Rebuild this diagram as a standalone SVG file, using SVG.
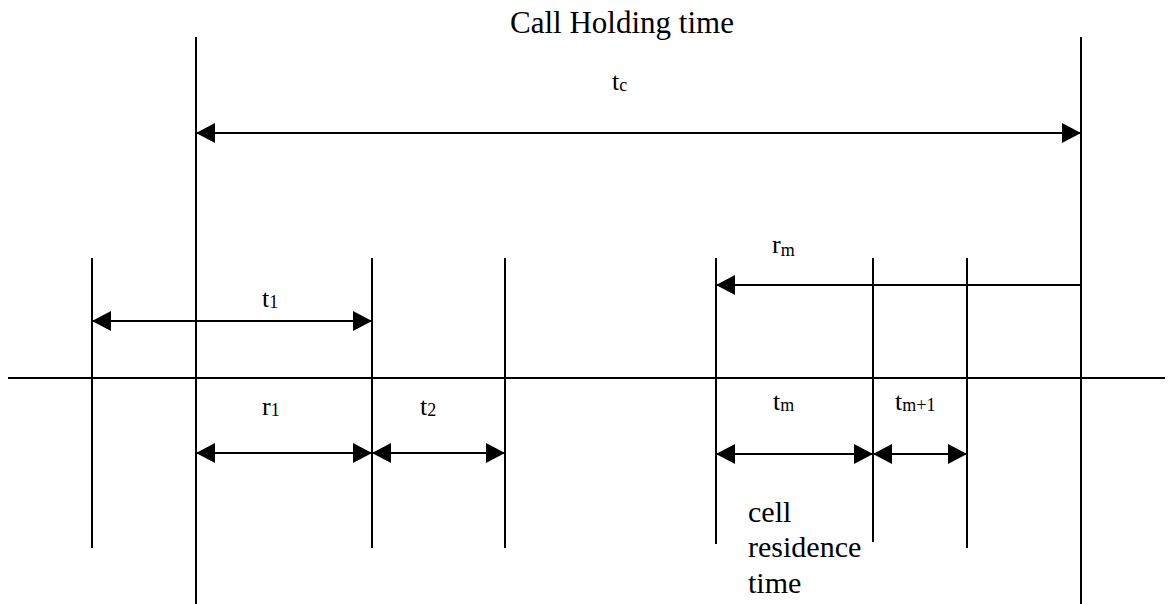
<svg xmlns="http://www.w3.org/2000/svg" width="1172" height="604" viewBox="0 0 1172 604">
  <style>
    .ln { stroke: #000; stroke-width: 2; fill: none; }
    .arr { stroke: #000; stroke-width: 2; fill: none; marker-start: url(#ah); marker-end: url(#ah); }
    .arr1 { stroke: #000; stroke-width: 2; fill: none; marker-end: url(#ah); }
    .lbl { font-family: "Liberation Serif", "Times New Roman", serif; font-size: 26px; fill: #000; }
    .sub { font-size: 18px; }
    .title { font-family: "Liberation Serif", "Times New Roman", serif; font-size: 31px; fill: #000; }
    .txt { font-family: "Liberation Serif", "Times New Roman", serif; font-size: 30px; fill: #000; }
  </style>
  <defs>
    <marker id="ah" viewBox="0 0 19 20" refX="19" refY="10" markerWidth="19" markerHeight="20" markerUnits="userSpaceOnUse" orient="auto-start-reverse">
      <path d="M0,0 L19,10 L0,20 z" fill="#000"/>
    </marker>
  </defs>
  <rect width="1172" height="604" fill="#fff"/>

  <g id="axis">
    <line class="ln" x1="8" y1="378" x2="1165" y2="378"/>
  </g>

  <g id="boundaries">
    <line id="b196" class="ln" x1="196" y1="37" x2="196" y2="604"/>
    <line id="b1081" class="ln" x1="1081" y1="37" x2="1081" y2="604"/>
    <line id="b92" class="ln" x1="92" y1="258" x2="92" y2="548"/>
    <line id="b372" class="ln" x1="372" y1="258" x2="372" y2="548"/>
    <line id="b505" class="ln" x1="505" y1="258" x2="505" y2="548"/>
    <line id="b716" class="ln" x1="716" y1="258" x2="716" y2="544"/>
    <line id="b873" class="ln" x1="873" y1="258" x2="873" y2="542"/>
    <line id="b967" class="ln" x1="967" y1="258" x2="967" y2="548"/>
  </g>

  <g id="connectors">
    <line class="arr" x1="196" y1="133" x2="1081" y2="133"/>
    <line class="arr" x1="92" y1="321" x2="372" y2="321"/>
    <line class="arr1" x1="1081" y1="285" x2="716" y2="285"/>
    <line class="arr" x1="196" y1="453" x2="372" y2="453"/>
    <line class="arr" x1="372" y1="453" x2="505" y2="453"/>
    <line class="arr" x1="716" y1="454" x2="873" y2="454"/>
    <line class="arr" x1="873" y1="454" x2="967" y2="454"/>
  </g>

  <g id="title">
    <text class="title" x="622" y="33" text-anchor="middle">Call Holding time</text>
  </g>

  <g id="labels">
    <text id="l-tc" class="lbl" x="612" y="90">t<tspan class="sub" dy="1">c</tspan></text>
    <text id="l-t1" class="lbl" x="262" y="307">t<tspan class="sub" dy="1">1</tspan></text>
    <text id="l-rm" class="lbl" x="772" y="253">r<tspan class="sub" dy="3">m</tspan></text>
    <text id="l-r1" class="lbl" x="262" y="415">r<tspan class="sub" dy="1">1</tspan></text>
    <text id="l-t2" class="lbl" x="420" y="415">t<tspan class="sub" dy="1">2</tspan></text>
    <text id="l-tm" class="lbl" x="773" y="410">t<tspan class="sub" dy="1">m</tspan></text>
    <text id="l-tm1" class="lbl" x="895" y="410">t<tspan class="sub" dy="1">m+1</tspan></text>
  </g>

  <g id="note">
    <text class="txt" x="748" y="522">cell</text>
    <text class="txt" x="748" y="557">residence</text>
    <text class="txt" x="748" y="593">time</text>
  </g>
</svg>
